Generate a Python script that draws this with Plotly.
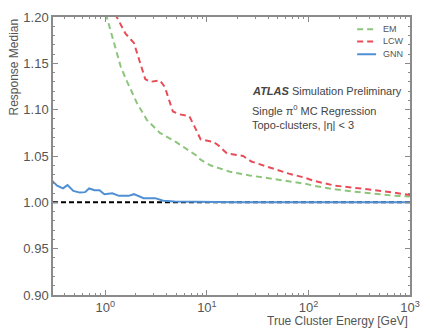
import plotly.graph_objects as go
import numpy as np

# ---- data ----
em_energy = [0.95, 1.22, 1.42, 1.64, 2.05, 2.56, 3.44, 4.98, 7.76, 8.67, 10.8, 16.9, 26.3, 40.7,
             64.6, 92.7, 115, 182, 282, 436, 684, 1000]
em_resp = [1.214, 1.170, 1.146, 1.130, 1.107, 1.089, 1.075, 1.065, 1.051, 1.046, 1.040, 1.033, 1.029,
           1.026, 1.023, 1.020, 1.0178, 1.014, 1.0116, 1.0095, 1.0072, 1.0063]

lcw_energy = [1.12, 1.58, 1.91, 2.13, 2.47, 2.75, 3.44, 3.85, 4.62, 5.37, 6.70, 7.50, 8.67, 11.7,
              13.1, 15.7, 22.7, 27.4, 35.5, 47.6, 64.0, 89.0, 115, 182, 282, 436, 684, 1000]
lcw_resp = [1.213, 1.182, 1.172, 1.156, 1.133, 1.130, 1.1316, 1.1245, 1.098, 1.095, 1.093, 1.0825,
            1.068, 1.065, 1.061, 1.053, 1.050, 1.044, 1.040, 1.035, 1.031, 1.027, 1.023, 1.018,
            1.016, 1.0134, 1.0105, 1.008]

gnn_energy = [0.30, 0.335, 0.382, 0.424, 0.484, 0.562, 0.631, 0.692, 0.783, 0.875, 0.977, 1.17, 1.36,
              1.70, 1.91, 2.38, 3.09, 3.72, 4.79, 6.46, 9.33, 20, 50, 100, 300, 1000]
gnn_resp = [1.023, 1.018, 1.015, 1.0186, 1.0123, 1.0105, 1.011, 1.015, 1.013, 1.013, 1.0088, 1.0098,
            1.007, 1.007, 1.0088, 1.0045, 1.0045, 1.0018, 1.001, 1.0007, 1.0002, 1.0001, 1.0, 1.0,
            1.0, 1.0]

series_names = ["EM", "LCW", "GNN"]
x_tick_vals = [1, 10, 100, 1000]
x_tick_text = ["10<sup>0</sup>", "10<sup>1</sup>", "10<sup>2</sup>", "10<sup>3</sup>"]
reference_level = 1.0

GREEN = "#8dc57d"
RED = "#e84c57"
BLUE = "#4f8fd4"
AXIS = "#8a8a8a"
TXT = "#555555"
FONT = "Liberation Sans, Arial, sans-serif"

styles = [dict(color=GREEN, width=2, dash="6px,4px"),
          dict(color=RED, width=2, dash="6px,4px"),
          dict(color=BLUE, width=2)]

fig = go.Figure()
fig.add_hline(y=reference_level, line=dict(color="black", width=2, dash="5px,3px"), layer="below")
for name, xs, ys, st in zip(series_names, [em_energy, lcw_energy, gnn_energy],
                            [em_resp, lcw_resp, gnn_resp], styles):
    fig.add_trace(go.Scatter(x=xs, y=ys, mode="lines", name=name, line=st, showlegend=False))

# compact legend (sample line + label)
leg_y = [0.956, 0.912, 0.866]
for name, st, ly in zip(series_names, styles, leg_y):
    fig.add_shape(type="line", xref="paper", yref="paper", x0=0.852, x1=0.905, y0=ly, y1=ly,
                  line=st)
    fig.add_annotation(text=name, xref="paper", yref="paper", x=0.918, y=ly, xanchor="left",
                       yanchor="middle", showarrow=False, font=dict(size=9, color=TXT))

minor_x = [m * 10.0 ** k for k in range(-1, 3) for m in range(2, 10)]

fig.update_layout(
    width=430, height=332,
    margin=dict(l=53, r=13, t=10, b=37),
    paper_bgcolor="white", plot_bgcolor="white",
    font=dict(family=FONT, color=TXT, size=12),
    showlegend=False,
    xaxis=dict(type="log", range=[np.log10(0.305), 3], tickvals=x_tick_vals, ticktext=x_tick_text,
               ticks="inside", ticklen=5, tickcolor=AXIS, showline=True, linecolor=AXIS, linewidth=1.5,
               mirror="allticks", showgrid=False, zeroline=False,
               tickfont=dict(size=13, color=TXT),
               minor=dict(tickvals=minor_x, ticks="inside", ticklen=2.5, tickcolor=AXIS, showgrid=False)),
    yaxis=dict(range=[0.9, 1.2], dtick=0.05, tick0=0.9, tickformat=".2f",
               ticks="inside", ticklen=5, tickcolor=AXIS, showline=True, linecolor=AXIS, linewidth=1.5,
               mirror="allticks", showgrid=False, zeroline=False,
               tickfont=dict(size=13, color=TXT),
               minor=dict(dtick=0.01, ticks="inside", ticklen=2.5, tickcolor=AXIS, showgrid=False)),
)

fig.add_annotation(text="Response Median", xref="paper", yref="paper", x=-0.112, y=1.0,
                   xanchor="center", yanchor="top", textangle=-90, showarrow=False,
                   font=dict(size=12, color=TXT))
fig.add_annotation(text="True Cluster Energy [GeV]", xref="paper", yref="paper", x=1.0, y=-0.06,
                   xanchor="right", yanchor="top", showarrow=False,
                   font=dict(size=12, color=TXT))
fig.add_annotation(text="<b><i>ATLAS</i></b> Simulation Preliminary", xref="paper", yref="paper",
                   x=0.552, y=0.735, xanchor="left", yanchor="middle", showarrow=False,
                   font=dict(size=11, color="#444444"))
fig.add_annotation(text="Single π<sup>0</sup> MC Regression",
                   xref="paper", yref="paper", x=0.552, y=0.665, xanchor="left", yanchor="middle",
                   align="left", showarrow=False, font=dict(size=11, color="#444444"))
fig.add_annotation(text="Topo-clusters, |η| < 3",
                   xref="paper", yref="paper", x=0.552, y=0.612, xanchor="left", yanchor="middle",
                   align="left", showarrow=False, font=dict(size=11, color="#444444"))

fig.write_html("out.html", config={"displayModeBar": False},
               post_script="document.body.style.margin='0';")
